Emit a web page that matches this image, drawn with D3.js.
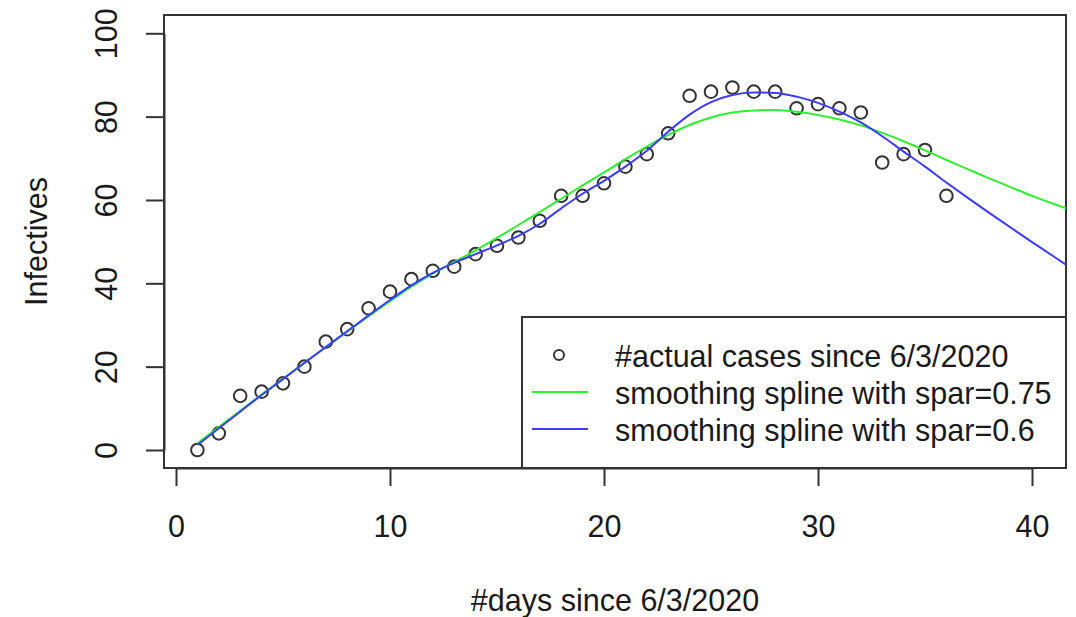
<!DOCTYPE html>
<html>
<head>
<meta charset="utf-8">
<script src="https://cdn.jsdelivr.net/npm/d3@7"></script>
<style>
  body { margin: 0; background: #fff; }
  text { font-family: "Liberation Sans", Arial, sans-serif; fill: #1a1a1a; }
</style>
</head>
<body>
<div id="chart"></div>
<script>
// data
const days = [1,2,3,4,5,6,7,8,9,10,11,12,13,14,15,16,17,18,19,20,21,22,23,24,25,26,27,28,29,30,31,32,33,34,35,36]
const cases = [0,4,13,14,16,20,26,29,34,38,41,43,44,47,49,51,55,61,61,64,68,71,76,85,86,87,86,86,82,83,82,81,69,71,72,61]

// fitted curves, read at whole days
const fitDays = [1,2,3,4,5,6,7,8,9,10,11,12,13,14,15,16,17,18,19,20,21,22,23,24,25,26,27,28,29,30,31,32,33,34,35,36,37,38,39,40,41,42]
const spar075 = [1.6,5.5,9.4,13.3,17.1,20.9,24.7,28.4,32.1,35.7,39.2,42.3,45.1,47.9,50.9,54.0,57.1,60.3,63.5,66.6,69.8,72.8,75.6,78.0,79.8,81.0,81.5,81.6,81.2,80.4,79.3,77.9,76.1,74.1,71.9,69.6,67.4,65.2,63.1,61.0,59.1,57.2]
const spar06 = [1.2,5.2,9.2,13.2,17.0,20.9,24.7,28.5,32.3,36.0,39.5,42.5,44.9,47.0,49.1,51.4,54.3,58.0,61.5,64.6,68.0,71.8,76.4,80.5,83.5,85.2,85.8,85.7,84.8,83.3,81.2,78.6,75.3,71.6,68.0,64.2,60.5,56.9,53.4,49.9,46.5,43.0]

const xTicks = [0,10,20,30,40]
const yTicks = [0,20,40,60,80,100]
const legendLabels = ["#actual cases since 6/3/2020", "smoothing spline with spar=0.75", "smoothing spline with spar=0.6"]

// constants
const width = 1076
const height = 617
const plot = { left: 164, right: 1066, top: 15, bottom: 468 }
const fontSize = 30.5
const green = "#2ef02e"
const blue = "#3c3cff"

// scales (usr region of the plot)
const xScale = d3.scaleLinear()
  .domain([0, 40])
  .range([176, 1032])
const yScale = d3.scaleLinear()
  .domain([0, 100])
  .range([450, 33.3])

const svg = d3.select("#chart")
  .append("svg")
  .attr("width", width)
  .attr("height", height)

svg.append("defs").append("clipPath")
  .attr("id", "plotclip")
  .append("rect")
  .attr("x", plot.left)
  .attr("y", plot.top)
  .attr("width", plot.right - plot.left)
  .attr("height", plot.bottom - plot.top)

// axes
const xAxis = svg.append("g")
  .attr("transform", `translate(0, ${plot.bottom})`)
  .call(d3.axisBottom(xScale).tickValues(xTicks).tickSize(18).tickSizeOuter(0).tickPadding(0))
xAxis.selectAll("text").remove()
xAxis.selectAll(".tick")
  .append("text")
  .attr("y", 69)
  .attr("text-anchor", "middle")
  .style("font-size", fontSize + "px")
  .text(d => d)

const yAxis = svg.append("g")
  .attr("transform", `translate(${plot.left}, 0)`)
  .call(d3.axisLeft(yScale).tickValues(yTicks).tickSize(18).tickSizeOuter(0))
yAxis.selectAll("text").remove()
yAxis.selectAll(".tick")
  .append("text")
  .attr("transform", "translate(-47, 0) rotate(-90)")
  .attr("text-anchor", "middle")
  .style("font-size", fontSize + "px")
  .text(d => d)

svg.selectAll(".domain, .tick line")
  .attr("stroke", "#333")
  .attr("stroke-width", 2)

// plot box
svg.append("rect")
  .attr("x", plot.left)
  .attr("y", plot.top)
  .attr("width", plot.right - plot.left)
  .attr("height", plot.bottom - plot.top)
  .attr("fill", "none")
  .attr("stroke", "#333")
  .attr("stroke-width", 2)

// axis titles
svg.append("text")
  .attr("x", (plot.left + plot.right) / 2)
  .attr("y", 611)
  .attr("text-anchor", "middle")
  .style("font-size", fontSize + "px")
  .text("#days since 6/3/2020")

svg.append("text")
  .attr("transform", `translate(47, ${(plot.top + plot.bottom) / 2}) rotate(-90)`)
  .attr("text-anchor", "middle")
  .style("font-size", fontSize + "px")
  .text("Infectives")

// points
const g = svg.append("g").attr("clip-path", "url(#plotclip)")

g.selectAll("circle.case")
  .data(days)
  .join("circle")
  .attr("class", "case")
  .attr("cx", d => xScale(d))
  .attr("cy", (d, i) => yScale(cases[i]))
  .attr("r", 6.3)
  .attr("fill", "none")
  .attr("stroke", "#333")
  .attr("stroke-width", 2)

// fitted lines
const line = d3.line()
  .x(d => xScale(d[0]))
  .y(d => yScale(d[1]))
  .curve(d3.curveMonotoneX)

g.append("path")
  .datum(fitDays.map((d, i) => [d, spar075[i]]))
  .attr("d", line)
  .attr("fill", "none")
  .attr("stroke", green)
  .attr("stroke-width", 2)

g.append("path")
  .datum(fitDays.map((d, i) => [d, spar06[i]]))
  .attr("d", line)
  .attr("fill", "none")
  .attr("stroke", blue)
  .attr("stroke-width", 2)

// legend
const legend = svg.append("g")
legend.append("rect")
  .attr("x", 522)
  .attr("y", 317)
  .attr("width", plot.right - 522)
  .attr("height", plot.bottom - 317)
  .attr("fill", "#fff")
  .attr("stroke", "#333")
  .attr("stroke-width", 2)

const rowY = [355, 392, 429]
legend.append("circle")
  .attr("cx", 559)
  .attr("cy", rowY[0])
  .attr("r", 5)
  .attr("fill", "none")
  .attr("stroke", "#333")
  .attr("stroke-width", 2)

legend.selectAll("line.key")
  .data([green, blue])
  .join("line")
  .attr("class", "key")
  .attr("x1", 532)
  .attr("x2", 588)
  .attr("y1", (d, i) => rowY[i + 1])
  .attr("y2", (d, i) => rowY[i + 1])
  .attr("stroke", d => d)
  .attr("stroke-width", 2)

legend.selectAll("text.key")
  .data(legendLabels)
  .join("text")
  .attr("class", "key")
  .attr("x", 615)
  .attr("y", (d, i) => rowY[i] + 12)
  .style("font-size", fontSize + "px")
  .text(d => d)
</script>
</body>
</html>
